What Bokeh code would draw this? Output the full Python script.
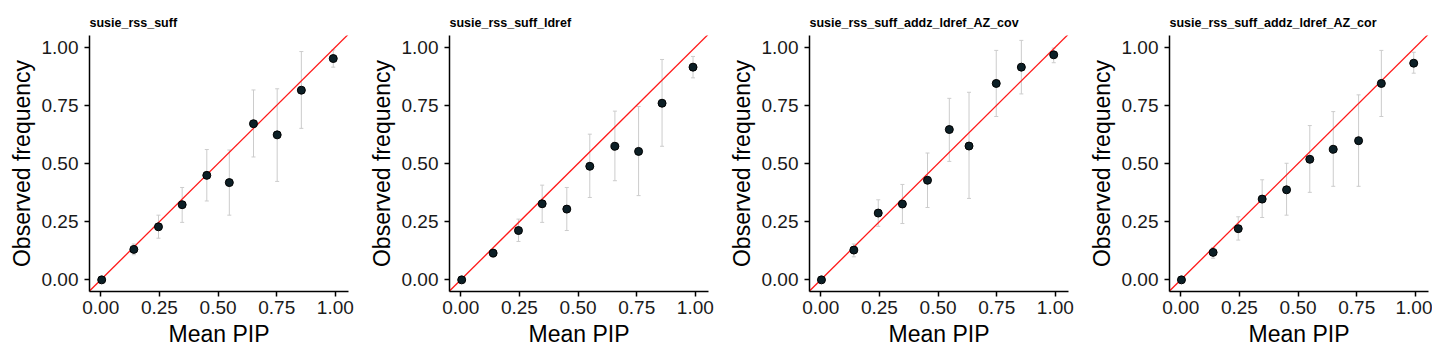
from bokeh.plotting import figure
from bokeh.layouts import row
from bokeh.models import ColumnDataSource, FixedTicker, Range1d
from bokeh.embed import file_html
from bokeh.resources import INLINE

titles = ["susie_rss_suff", "susie_rss_suff_ldref",
          "susie_rss_suff_addz_ldref_AZ_cov", "susie_rss_suff_addz_ldref_AZ_cor"]

ticks = [0.0, 0.25, 0.5, 0.75, 1.0]
tick_labels = ["0.00", "0.25", "0.50", "0.75", "1.00"]

# y = x reference line end points (data units)
identity_start = -0.05
identity_end = 1.06

# panel 1: susie_rss_suff
mean_pip_1 = [0.004, 0.141, 0.246, 0.347, 0.452, 0.548, 0.651, 0.752, 0.855, 0.991]
obs_freq_1 = [0.000, 0.131, 0.228, 0.323, 0.449, 0.418, 0.671, 0.623, 0.815, 0.951]
lower_1    = [0.000, 0.108, 0.179, 0.247, 0.339, 0.278, 0.528, 0.423, 0.651, 0.914]
upper_1    = [0.000, 0.154, 0.278, 0.397, 0.560, 0.558, 0.816, 0.821, 0.981, 0.988]

# panel 2: susie_rss_suff_ldref
mean_pip_2 = [0.004, 0.138, 0.246, 0.347, 0.452, 0.550, 0.657, 0.758, 0.858, 0.990]
obs_freq_2 = [0.000, 0.115, 0.212, 0.327, 0.304, 0.488, 0.574, 0.552, 0.759, 0.914]
lower_2    = [0.000, 0.096, 0.165, 0.247, 0.212, 0.354, 0.426, 0.362, 0.574, 0.868]
upper_2    = [0.000, 0.132, 0.261, 0.407, 0.397, 0.626, 0.725, 0.745, 0.947, 0.960]

# panel 3: susie_rss_suff_addz_ldref_AZ_cov
mean_pip_3 = [0.003, 0.141, 0.245, 0.348, 0.455, 0.548, 0.632, 0.748, 0.855, 0.993]
obs_freq_3 = [0.000, 0.128, 0.287, 0.326, 0.428, 0.646, 0.575, 0.844, 0.914, 0.967]
lower_3    = [0.000, 0.099, 0.230, 0.242, 0.311, 0.509, 0.350, 0.702, 0.799, 0.933]
upper_3    = [0.000, 0.154, 0.344, 0.410, 0.545, 0.780, 0.806, 0.986, 1.029, 0.996]

# panel 4: susie_rss_suff_addz_ldref_AZ_cor
mean_pip_4 = [0.003, 0.138, 0.245, 0.347, 0.451, 0.550, 0.650, 0.758, 0.855, 0.993]
obs_freq_4 = [0.000, 0.118, 0.220, 0.347, 0.387, 0.518, 0.561, 0.598, 0.844, 0.931]
lower_4    = [0.000, 0.093, 0.171, 0.268, 0.278, 0.376, 0.402, 0.402, 0.702, 0.888]
upper_4    = [0.000, 0.139, 0.271, 0.430, 0.501, 0.663, 0.723, 0.795, 0.986, 0.978]

panels = [
    (mean_pip_1, obs_freq_1, lower_1, upper_1),
    (mean_pip_2, obs_freq_2, lower_2, upper_2),
    (mean_pip_3, obs_freq_3, lower_3, upper_3),
    (mean_pip_4, obs_freq_4, lower_4, upper_4),
]

FONT = "Liberation Sans"
ERR = "#cccccc"
figs = []
for i, (title, (xs, ys, lo, up)) in enumerate(zip(titles, panels)):
    right = 4 if i == 3 else 12
    p = figure(frame_width=259, frame_height=256, output_backend="svg",
               toolbar_location=None, title=title,
               x_range=Range1d(-0.048, 1.056), y_range=Range1d(-0.05, 1.05),
               min_border_left=89, min_border_right=right,
               min_border_top=35, min_border_bottom=61)
    p.title.text_font = FONT
    p.title.text_font_size = "12.5px"
    p.title.text_font_style = "bold"
    p.title.text_color = "black"
    p.title.align = "left"
    p.title.standoff = 11
    p.outline_line_color = None
    p.grid.visible = False
    src = ColumnDataSource(dict(x=xs, y=ys, lo=lo, up=up))
    # error bars: stems and small caps
    p.segment(x0="x", y0="lo", x1="x", y1="up", source=src, line_color=ERR, line_width=1)
    p.scatter("x", "lo", source=src, marker="dash", size=4, line_color=ERR, line_width=1)
    p.scatter("x", "up", source=src, marker="dash", size=4, line_color=ERR, line_width=1)
    # identity line
    p.segment(x0=[identity_start], y0=[identity_start], x1=[identity_end], y1=[identity_end],
              line_color="#ff1a1a", line_width=1.3)
    # points
    p.scatter("x", "y", source=src, size=8, fill_color="#0c1f26",
              line_color="#000000", line_width=1)
    for ax in (p.xaxis[0], p.yaxis[0]):
        ax.ticker = FixedTicker(ticks=ticks)
        ax.major_label_overrides = {t: l for t, l in zip(ticks, tick_labels)}
        ax.major_label_text_font = FONT
        ax.major_label_text_font_size = "19px"
        ax.major_label_text_color = "#1a1a1a"
        ax.axis_label_text_font = FONT
        ax.axis_label_text_font_size = "23px"
        ax.axis_label_text_font_style = "normal"
        ax.axis_label_text_color = "black"
        ax.axis_line_color = "black"
        ax.axis_line_width = 1.5
        ax.major_tick_line_color = "black"
        ax.major_tick_line_width = 1.5
        ax.major_tick_in = 0
        ax.major_tick_out = 5
        ax.minor_tick_line_color = None
        ax.axis_label_standoff = 4
    p.xaxis[0].major_label_standoff = 4
    p.yaxis[0].major_label_standoff = 6
    p.xaxis.axis_label = "Mean PIP"
    p.yaxis.axis_label = "Observed frequency"
    figs.append(p)

layout = row(*figs, spacing=0)
open("out.html", "w").write(file_html(layout, INLINE))
